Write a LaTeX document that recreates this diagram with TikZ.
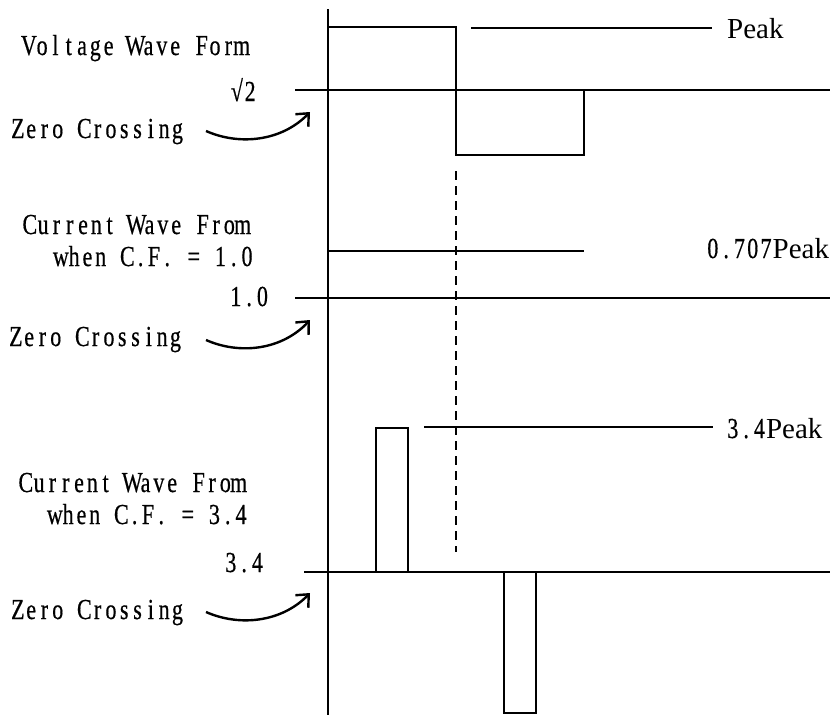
\documentclass[tikz,border=0pt]{standalone}
\usepackage{fontspec}
\setmainfont{Liberation Serif}
\newfontfamily\monofam[FakeBold=0.6]{Liberation Serif}
\usepackage{graphicx}
\usetikzlibrary{arrows.meta}
\newlength\cw \setlength\cw{13.3pt}
\newcommand\mch[1]{\makebox[\cw][c]{\scalebox{0.76}[1]{#1}}}
\def\monoend{\monoend}
\def\mono#1{{\monofam\monoloop#1\monoend}}
\def\monoloop#1{\ifx#1\monoend\else\mch{#1}\expandafter\monoloop\fi}
\begin{document}
\begin{tikzpicture}[x=1pt,y=-1pt,
  wave/.style={line width=2.4pt},
  lbl/.style={anchor=base west, inner sep=0pt, font=\fontsize{29}{32}\selectfont},
  zc/.style={line width=2.4pt, -{Straight Barb[length=10pt,width=18pt,line width=2.4pt]}},
  dsh/.style={line width=2.4pt, dash pattern=on 9pt off 6pt}]
\useasboundingbox (0,0) rectangle (830,715);
% axis
\coordinate (axT) at (328,9);
\coordinate (axB) at (328,715);
\draw[wave] (axT) -- (axB);
% voltage wave
\coordinate (v0) at (328,27);
\coordinate (v1) at (456,27);
\coordinate (v2) at (456,155);
\coordinate (v3) at (584,155);
\coordinate (v4) at (584,90);
\draw[wave] (v0) -- (v1) -- (v2) -- (v3) -- (v4);
\coordinate (z1a) at (295,90);
\coordinate (z1b) at (830,90);
\draw[wave] (z1a) -- (z1b);
% current 1.0
\coordinate (c1a) at (328,251);
\coordinate (c1b) at (584,251);
\draw[wave] (c1a) -- (c1b);
\coordinate (z2a) at (295,298);
\coordinate (z2b) at (830,298);
\draw[wave] (z2a) -- (z2b);
% current 3.4
\coordinate (z3a) at (304,572);
\coordinate (z3b) at (830,572);
\draw[wave] (z3a) -- (z3b);
\coordinate (p1) at (376,572);
\coordinate (p2) at (376,428);
\coordinate (p3) at (408,428);
\coordinate (p4) at (408,572);
\draw[wave] (p1) -- (p2) -- (p3) -- (p4);
\coordinate (n1) at (504,572);
\coordinate (n2) at (504,713);
\coordinate (n3) at (536,713);
\coordinate (n4) at (536,572);
\draw[wave] (n1) -- (n2) -- (n3) -- (n4);
% dashed
\coordinate (dA) at (456,171);
\coordinate (dB) at (456,552);
\draw[dsh] (dA) -- (dB);
% labels
\node[lbl] (vwf) at (22,55) {\mono{Voltage~Wave~Form}};
\node[lbl] (sq2) at (230,101) {\mono{√2}};
\node[lbl] (zc1) at (11,138) {\mono{Zero~Crossing}};
\node[lbl] (cw1) at (23,234) {\mono{Current~Wave~From}};
\node[lbl] (wh1) at (54,266) {\mono{when~C.F.~=~1.0}};
\node[lbl] (one) at (229,306) {\mono{1.0}};
\node[lbl] (zc2) at (9,346) {\mono{Zero~Crossing}};
\node[lbl] (cw3) at (19,492) {\mono{Current~Wave~From}};
\node[lbl] (wh3) at (48,524) {\mono{when~C.F.~=~3.4}};
\node[lbl] (thr) at (224,572) {\mono{3.4}};
\node[lbl] (zc3) at (11,619) {\mono{Zero~Crossing}};
\node[lbl] (pk) at (727,38) {Peak};
\node[lbl] (pk2) at (706,258) {\mono{0.707}Peak};
\node[lbl] (pk3) at (726,438) {\mono{3.4}Peak};
% peak leader lines
\coordinate (l1a) at (471,28);
\coordinate (l1b) at (712,28);
\draw[wave] (l1a) -- (l1b);
\coordinate (l3a) at (424,427);
\coordinate (l3b) at (713,427);
\draw[wave] (l3a) -- (l3b);
% zero crossing arrows
\coordinate (a1s) at (206,131);
\coordinate (a1e) at (310,112);
\draw[zc] (a1s) .. controls (240,146) and (282,141) .. (a1e);
\coordinate (a2s) at (206,340);
\coordinate (a2e) at (310,320);
\draw[zc] (a2s) .. controls (240,355) and (282,350) .. (a2e);
\coordinate (a3s) at (206,612);
\coordinate (a3e) at (310,593);
\draw[zc] (a3s) .. controls (240,627) and (282,622) .. (a3e);
\end{tikzpicture}
\end{document}
